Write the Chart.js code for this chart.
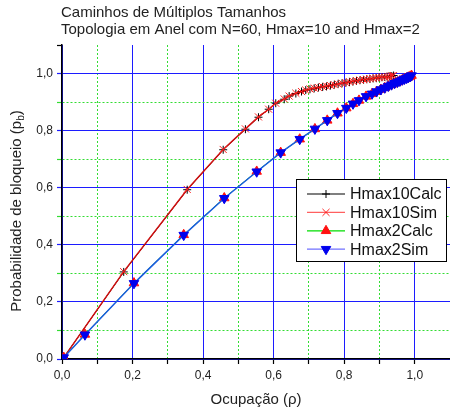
<!DOCTYPE html>
<html>
<head>
<meta charset="utf-8">
<script src="https://cdn.jsdelivr.net/npm/chart.js@4.4.0/dist/chart.umd.min.js"></script>
<style>
  html, body { margin: 0; padding: 0; background: #fff; }
  #wrap { width: 450px; height: 416px; }
</style>
</head>
<body>
<div id="wrap"><canvas id="grafico" width="450" height="416"></canvas></div>
<script>
// Hmax=10 (calculado e simulado)
const hmax10X = [0.005, 0.175, 0.355, 0.457, 0.520, 0.557, 0.586, 0.606, 0.630, 0.644, 0.663, 0.679, 0.691,
    0.703, 0.715, 0.727, 0.739, 0.750, 0.761, 0.772, 0.783, 0.794, 0.805, 0.815, 0.825, 0.835, 0.845,
    0.855, 0.864, 0.873, 0.882, 0.891, 0.899, 0.907, 0.915, 0.922, 0.929, 0.935, 0.940];
const hmax10Calc = [0.005, 0.305, 0.593, 0.733, 0.805, 0.847, 0.875, 0.896, 0.910, 0.921, 0.930, 0.937, 0.942,
    0.945, 0.948, 0.951, 0.953, 0.955, 0.958, 0.961, 0.964, 0.966, 0.968, 0.970, 0.972, 0.974, 0.977,
    0.978, 0.980, 0.981, 0.983, 0.984, 0.986, 0.987, 0.988, 0.989, 0.990, 0.991, 0.993];
const hmax10Sim = [0.005, 0.306, 0.594, 0.734, 0.806, 0.848, 0.875, 0.896, 0.911, 0.921, 0.931, 0.937, 0.942,
    0.946, 0.949, 0.951, 0.954, 0.956, 0.958, 0.961, 0.963, 0.966, 0.968, 0.971, 0.973, 0.975, 0.977,
    0.979, 0.980, 0.982, 0.983, 0.985, 0.986, 0.987, 0.988, 0.989, 0.990, 0.992, 0.993];

// Hmax=2 (calculado e simulado)
const hmax2X = [0.005, 0.065, 0.204, 0.345, 0.460, 0.552, 0.620, 0.674, 0.717, 0.752, 0.781, 0.806, 0.825,
    0.842, 0.862, 0.879, 0.892, 0.904, 0.915, 0.925, 0.934, 0.943, 0.951, 0.958, 0.965, 0.971, 0.977,
    0.982, 0.987, 0.991];
const hmax2Calc = [0.005, 0.086, 0.266, 0.435, 0.564, 0.657, 0.723, 0.770, 0.806, 0.836, 0.861, 0.879, 0.894,
    0.906, 0.920, 0.929, 0.937, 0.944, 0.950, 0.956, 0.961, 0.966, 0.970, 0.974, 0.978, 0.981, 0.984,
    0.987, 0.990, 0.993];
const hmax2Sim = [0.005, 0.085, 0.265, 0.434, 0.563, 0.656, 0.723, 0.770, 0.806, 0.836, 0.861, 0.879, 0.894,
    0.906, 0.920, 0.929, 0.937, 0.944, 0.950, 0.956, 0.961, 0.966, 0.970, 0.974, 0.978, 0.981, 0.984,
    0.987, 0.990, 0.993];

const tituloLinhas = ['Caminhos de Múltiplos Tamanhos', 'Topologia em Anel com N=60, Hmax=10 and Hmax=2'];
const tituloX = 'Ocupação (ρ)';
const tituloY = 'Probabilidade de bloqueio (p';
const tituloYSub = 'b';

const FONTE = '"Liberation Sans", Arial, sans-serif';
const AZUL = '#1c1cff';
const VERDE = '#33dd33';

function pontos(xs, ys) {
    return xs.map((x, i) => ({ x: x, y: ys[i] }));
}

function ehMaior(v) {
    const r = v / 0.2;
    return Math.abs(r - Math.round(r)) < 1e-6;
}

function corGrade(ctx) {
    if (!ctx.tick) return AZUL;
    const v = ctx.tick.value;
    if (v > 1.05) return 'rgba(0,0,0,0)';
    return ehMaior(v) ? AZUL : VERDE;
}

function rotulo(v) {
    return (ehMaior(v) && v < 1.05) ? v.toFixed(1).replace('.', ',') : '';
}

const datasets = [
    {
        label: 'Hmax10Calc',
        data: pontos(hmax10X, hmax10Calc),
        borderColor: '#000', borderWidth: 1, legendLine: '#000',
        pointStyle: 'cross', pointRadius: 4, pointBorderWidth: 1,
        pointBorderColor: '#000', pointBackgroundColor: '#000',
        order: 4
    },
    {
        label: 'Hmax10Sim',
        data: pontos(hmax10X, hmax10Sim),
        borderColor: '#d01010', borderWidth: 1.5, legendLine: '#ff6060',
        pointStyle: 'crossRot', pointRadius: 5, pointBorderWidth: 1,
        pointBorderColor: '#ff2020', pointBackgroundColor: '#ff2020',
        order: 3
    },
    {
        label: 'Hmax2Calc',
        data: pontos(hmax2X, hmax2Calc),
        borderColor: '#00cc00', borderWidth: 1, legendLine: '#00dd00',
        pointStyle: 'triangle', pointRadius: 5.5, pointBorderWidth: 1,
        pointBorderColor: '#ff1010', pointBackgroundColor: '#ff1010',
        order: 2
    },
    {
        label: 'Hmax2Sim',
        data: pontos(hmax2X, hmax2Sim),
        borderColor: '#1a5ce0', borderWidth: 1.5, legendLine: '#7070ff',
        pointStyle: 'triangle', rotation: 180, pointRadius: 5.5, pointBorderWidth: 1,
        pointBorderColor: '#0000ee', pointBackgroundColor: '#0000ee',
        order: 1
    }
];

// fundo, títulos e legenda desenhados à mão
const textos = {
    id: 'textos',
    beforeDraw(chart) {
        const c = chart.ctx;
        c.save();
        c.fillStyle = '#fff';
        c.fillRect(0, 0, chart.width, chart.height);
        c.restore();
    },
    afterDraw(chart) {
        const c = chart.ctx;
        c.save();
        c.fillStyle = '#222';
        c.textBaseline = 'alphabetic';
        c.textAlign = 'left';
        c.font = '15px ' + FONTE;
        c.fillText(tituloLinhas[0], 61, 17);
        c.fillText(tituloLinhas[1], 61, 34);

        // eixo x
        c.textAlign = 'center';
        c.fillText(tituloX, 256, 404);

        // eixo y com subscrito
        c.save();
        c.translate(21, 211);
        c.rotate(-Math.PI / 2);
        c.font = '15px ' + FONTE;
        const w1 = c.measureText(tituloY).width;
        c.font = '10px ' + FONTE;
        const w2 = c.measureText(tituloYSub).width;
        c.font = '15px ' + FONTE;
        const w3 = c.measureText(')').width;
        const x0 = -(w1 + w2 + w3) / 2;
        c.textAlign = 'left';
        c.fillText(tituloY, x0, 0);
        c.font = '10px ' + FONTE;
        c.fillText(tituloYSub, x0 + w1, 3);
        c.font = '15px ' + FONTE;
        c.fillText(')', x0 + w1 + w2, 0);
        c.restore();

        // legenda
        const bx = 296, by = 179, bw = 150, bh = 82;
        c.fillStyle = '#fff';
        c.fillRect(bx, by, bw, bh);
        c.strokeStyle = '#000';
        c.lineWidth = 1;
        c.strokeRect(bx + 0.5, by + 0.5, bw, bh);
        chart.data.datasets.forEach((ds, k) => {
            const y = 194 + k * 18.4;
            c.strokeStyle = ds.legendLine;
            c.lineWidth = 1.2;
            c.beginPath();
            c.moveTo(307, y);
            c.lineTo(345, y);
            c.stroke();
            c.fillStyle = ds.pointBackgroundColor;
            c.strokeStyle = ds.pointBorderColor;
            c.lineWidth = ds.pointBorderWidth;
            Chart.helpers.drawPoint(c, {
                pointStyle: ds.pointStyle,
                rotation: ds.rotation || 0,
                radius: ds.pointRadius,
                borderWidth: ds.pointBorderWidth
            }, 326, y);
            c.fillStyle = '#111';
            c.textAlign = 'left';
            c.textBaseline = 'middle';
            c.font = '16px ' + FONTE;
            c.fillText(ds.label, 350, y + 1);
        });
        c.restore();
    }
};

new Chart(document.getElementById('grafico'), {
    type: 'scatter',
    data: { datasets: datasets.map(d => Object.assign({ showLine: true, fill: false, tension: 0 }, d)) },
    plugins: [textos],
    options: {
        responsive: false,
        animation: false,
        layout: { autoPadding: false, padding: { top: 45, right: 0, left: 0, bottom: 0 } },
        plugins: { legend: { display: false }, tooltip: { enabled: false }, title: { display: false } },
        scales: {
            x: {
                type: 'linear', min: 0, max: 1.1,
                ticks: {
                    stepSize: 0.1, autoSkip: false, maxRotation: 0,
                    color: '#222', font: { family: FONTE, size: 12 }, padding: 4,
                    callback: rotulo
                },
                grid: {
                    color: corGrade, lineWidth: 1, tickLength: 5,
                    tickColor: ctx => (ctx.tick && ctx.tick.value > 1.05) ? 'rgba(0,0,0,0)' : '#000',
                    tickWidth: 1.2
                },
                border: {
                    color: '#000', width: 1.5,
                    dash: ctx => (ctx.tick && !ehMaior(ctx.tick.value)) ? [2, 2] : []
                },
                afterFit: s => { s.height = 57; s.paddingLeft = 0; s.paddingRight = 0; }
            },
            y: {
                type: 'linear', min: 0, max: 1.1,
                ticks: {
                    stepSize: 0.1, autoSkip: false,
                    color: '#222', font: { family: FONTE, size: 12 }, padding: 4,
                    callback: rotulo
                },
                grid: {
                    color: corGrade, lineWidth: 1, tickLength: 5,
                    tickColor: ctx => (ctx.tick && ctx.tick.value > 1.05) ? '#000' : corGrade(ctx),
                    tickWidth: 1.2
                },
                border: {
                    color: '#000', width: 1.5,
                    dash: ctx => (ctx.tick && !ehMaior(ctx.tick.value)) ? [2, 2] : []
                },
                afterFit: s => { s.width = 62; s.paddingTop = 0; s.paddingBottom = 0; }
            }
        }
    }
});
</script>
</body>
</html>
